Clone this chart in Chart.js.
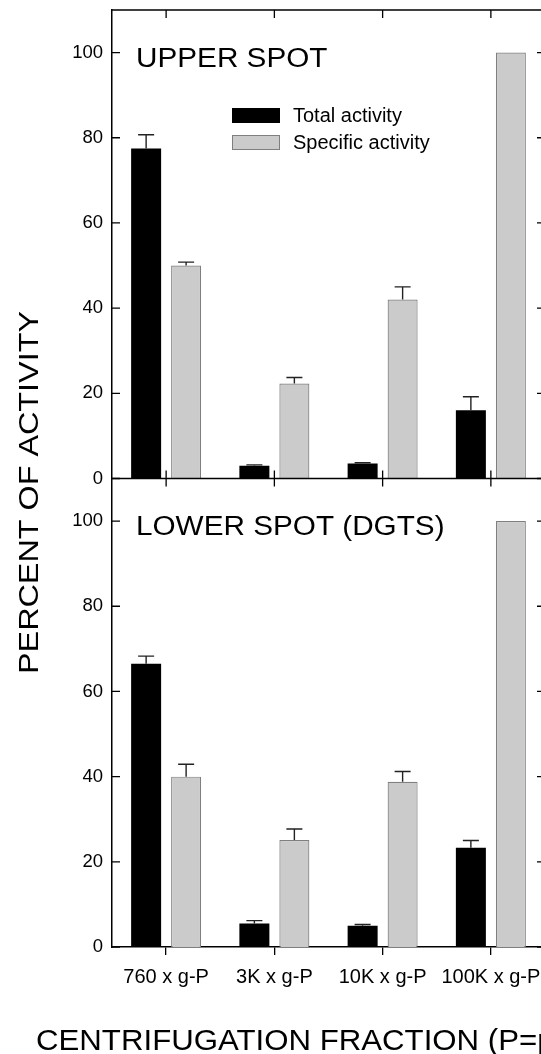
<!DOCTYPE html>
<html><head><meta charset="utf-8">
<script src="https://cdn.jsdelivr.net/npm/chart.js@4/dist/chart.umd.min.js"></script>
<style>
html,body{margin:0;padding:0;background:#fff;overflow:hidden;width:541px;height:1054px}
#wrap{position:absolute;left:0;top:0;width:600px;height:1054px}
</style></head><body><div id="wrap"><canvas id="c" width="600" height="1054"></canvas></div>
<script>
const categories = ['760 x g-P', '3K x g-P', '10K x g-P', '100K x g-P'];
const upperTotal = [77.5, 3.0, 3.5, 16.0];
const upperTotalErr = [3.2, 0.2, 0.2, 3.2];
const upperSpecific = [50.0, 22.3, 42.0, 100];
const upperSpecificErr = [0.8, 1.4, 3.0, 0];
const lowerTotal = [66.5, 5.5, 5.0, 23.3];
const lowerTotalErr = [1.8, 0.7, 0.3, 1.7];
const lowerSpecific = [40.0, 25.1, 38.8, 100];
const lowerSpecificErr = [2.9, 2.6, 2.4, 0];
const yTickValues = [0, 20, 40, 60, 80, 100];
const seriesNames = ['Total activity', 'Specific activity'];
const panelTitles = ['UPPER SPOT', 'LOWER SPOT (DGTS)'];
const xTitle = 'CENTRIFUGATION FRACTION (P=pellet)';
const yTitle = 'PERCENT OF ACTIVITY';

const FONT = "'Liberation Sans', Arial, Helvetica, sans-serif";
const BLACK = '#000000';
const GRAY = '#cbcbcb';
const GRAY_BORDER = '#7f7f7f';

const errs = [upperTotalErr, upperSpecificErr, lowerTotalErr, lowerSpecificErr];

const decor = {
  id: 'decor',
  afterDatasetsDraw(chart) {
    const ctx = chart.ctx;
    const x = chart.scales.x, yU = chart.scales.yU, yL = chart.scales.yL;
    const L = chart.chartArea.left, R = chart.chartArea.right;
    ctx.save();
    // error bars
    ctx.strokeStyle = '#222';
    ctx.lineWidth = 1.4;
    chart.data.datasets.forEach((ds, i) => {
      const meta = chart.getDatasetMeta(i);
      const sc = chart.scales[ds.yAxisID];
      meta.data.forEach((el, j) => {
        const e = errs[i][j];
        if (!e) return;
        const yt = sc.getPixelForValue(ds.data[j] + e);
        ctx.beginPath();
        ctx.moveTo(el.x, el.y); ctx.lineTo(el.x, yt);
        ctx.moveTo(el.x - 8, yt); ctx.lineTo(el.x + 8, yt);
        ctx.stroke();
      });
    });
    // frame
    ctx.strokeStyle = BLACK;
    ctx.lineWidth = 1.5;
    const top = yU.top, mid = yU.getPixelForValue(0);
    ctx.beginPath();
    ctx.moveTo(L, top); ctx.lineTo(R, top);
    ctx.moveTo(R, top); ctx.lineTo(R, yL.bottom);
    ctx.moveTo(L, mid); ctx.lineTo(R, mid);
    ctx.stroke();
    // ticks
    ctx.lineWidth = 1.3;
    ctx.beginPath();
    [yU, yL].forEach(s => {
      yTickValues.forEach(v => {
        const p = s.getPixelForValue(v);
        ctx.moveTo(L, p); ctx.lineTo(L + 8, p);
        ctx.moveTo(R - 8, p); ctx.lineTo(R, p);
      });
    });
    categories.forEach((c, j) => {
      const p = x.getPixelForValue(j);
      ctx.moveTo(p, top); ctx.lineTo(p, top + 8);
      ctx.moveTo(p, mid - 8); ctx.lineTo(p, mid + 8);
    });
    ctx.stroke();
    // panel titles
    ctx.fillStyle = BLACK;
    ctx.textBaseline = 'alphabetic';
    ctx.textAlign = 'left';
    ctx.font = '27px ' + FONT;
    [[yU, panelTitles[0]], [yL, panelTitles[1]]].forEach(([s, t]) => {
      ctx.save();
      ctx.translate(136, s.top + 56.5);
      ctx.scale(1.1, 1);
      ctx.fillText(t, 0, 0);
      ctx.restore();
    });
    // legend
    const lx = 232, lw = 48;
    const ly = [yU.top + 98, yU.top + 125];
    ctx.fillStyle = BLACK;
    ctx.fillRect(lx, ly[0], lw, 15);
    ctx.fillStyle = GRAY;
    ctx.fillRect(lx, ly[1], lw, 15);
    ctx.strokeStyle = GRAY_BORDER; ctx.lineWidth = 1;
    ctx.strokeRect(lx + 0.5, ly[1] + 0.5, lw - 1, 14);
    ctx.fillStyle = BLACK;
    ctx.font = '20px ' + FONT;
    ctx.textBaseline = 'middle';
    ctx.fillText(seriesNames[0], 293, ly[0] + 8);
    ctx.fillText(seriesNames[1], 293, ly[1] + 8);
    // axis titles
    ctx.font = '30px ' + FONT;
    ctx.textBaseline = 'alphabetic';
    ctx.save();
    ctx.translate(36, 1050);
    ctx.scale(1.04, 1);
    ctx.fillText(xTitle, 0, 0);
    ctx.restore();
    ctx.save();
    ctx.translate(38, (yU.top + yL.bottom) / 2 + 14);
    ctx.rotate(-Math.PI / 2);
    ctx.scale(1.155, 1);
    ctx.font = '28px ' + FONT;
    ctx.textAlign = 'center';
    ctx.fillText(yTitle, 0, 0);
    ctx.restore();
    ctx.restore();
  }
};

const yScale = (weight) => ({
  type: 'linear', position: 'left', stack: 'panels', stackWeight: weight,
  min: 0, max: 110,
  ticks: { stepSize: 20, includeBounds: false, color: BLACK, padding: 9,
           font: { family: FONT, size: 18.5 } },
  grid: { display: false, drawTicks: false },
  border: { display: true, color: BLACK, width: 1.5 },
  afterFit(s) { s.width = 112; s.paddingTop = 0; s.paddingBottom = 0; }
});

new Chart(document.getElementById('c'), {
  type: 'bar',
  data: {
    labels: categories,
    datasets: [
      { label: seriesNames[0], data: upperTotal, yAxisID: 'yU', stack: 'total',
        backgroundColor: BLACK, borderWidth: 0 },
      { label: seriesNames[1], data: upperSpecific, yAxisID: 'yU', stack: 'spec',
        backgroundColor: GRAY, borderColor: GRAY_BORDER, borderWidth: 1.2 },
      { label: seriesNames[0], data: lowerTotal, yAxisID: 'yL', stack: 'total',
        backgroundColor: BLACK, borderWidth: 0 },
      { label: seriesNames[1], data: lowerSpecific, yAxisID: 'yL', stack: 'spec',
        backgroundColor: GRAY, borderColor: GRAY_BORDER, borderWidth: 1.2 }
    ]
  },
  options: {
    responsive: false, animation: false, devicePixelRatio: 1,
    barPercentage: 0.75, categoryPercentage: 0.739,
    layout: { padding: { top: 10, right: 55, bottom: 65, left: 0 } },
    plugins: { legend: { display: false }, tooltip: { enabled: false }, title: { display: false } },
    scales: {
      x: {
        type: 'category', offset: true,
        grid: { display: true, drawOnChartArea: false, offset: false, tickLength: 8,
                color: BLACK, lineWidth: 1.3 },
        border: { display: true, color: BLACK, width: 1.5 },
        ticks: { color: BLACK, padding: 10, maxRotation: 0, autoSkip: false,
                 font: { family: FONT, size: 20 } },
        afterFit(s) { s.height = 42; s.paddingLeft = 0; s.paddingRight = 0; }
      },
      yL: yScale(1),
      yU: yScale(1)
    }
  },
  plugins: [decor]
});
</script></body></html>
